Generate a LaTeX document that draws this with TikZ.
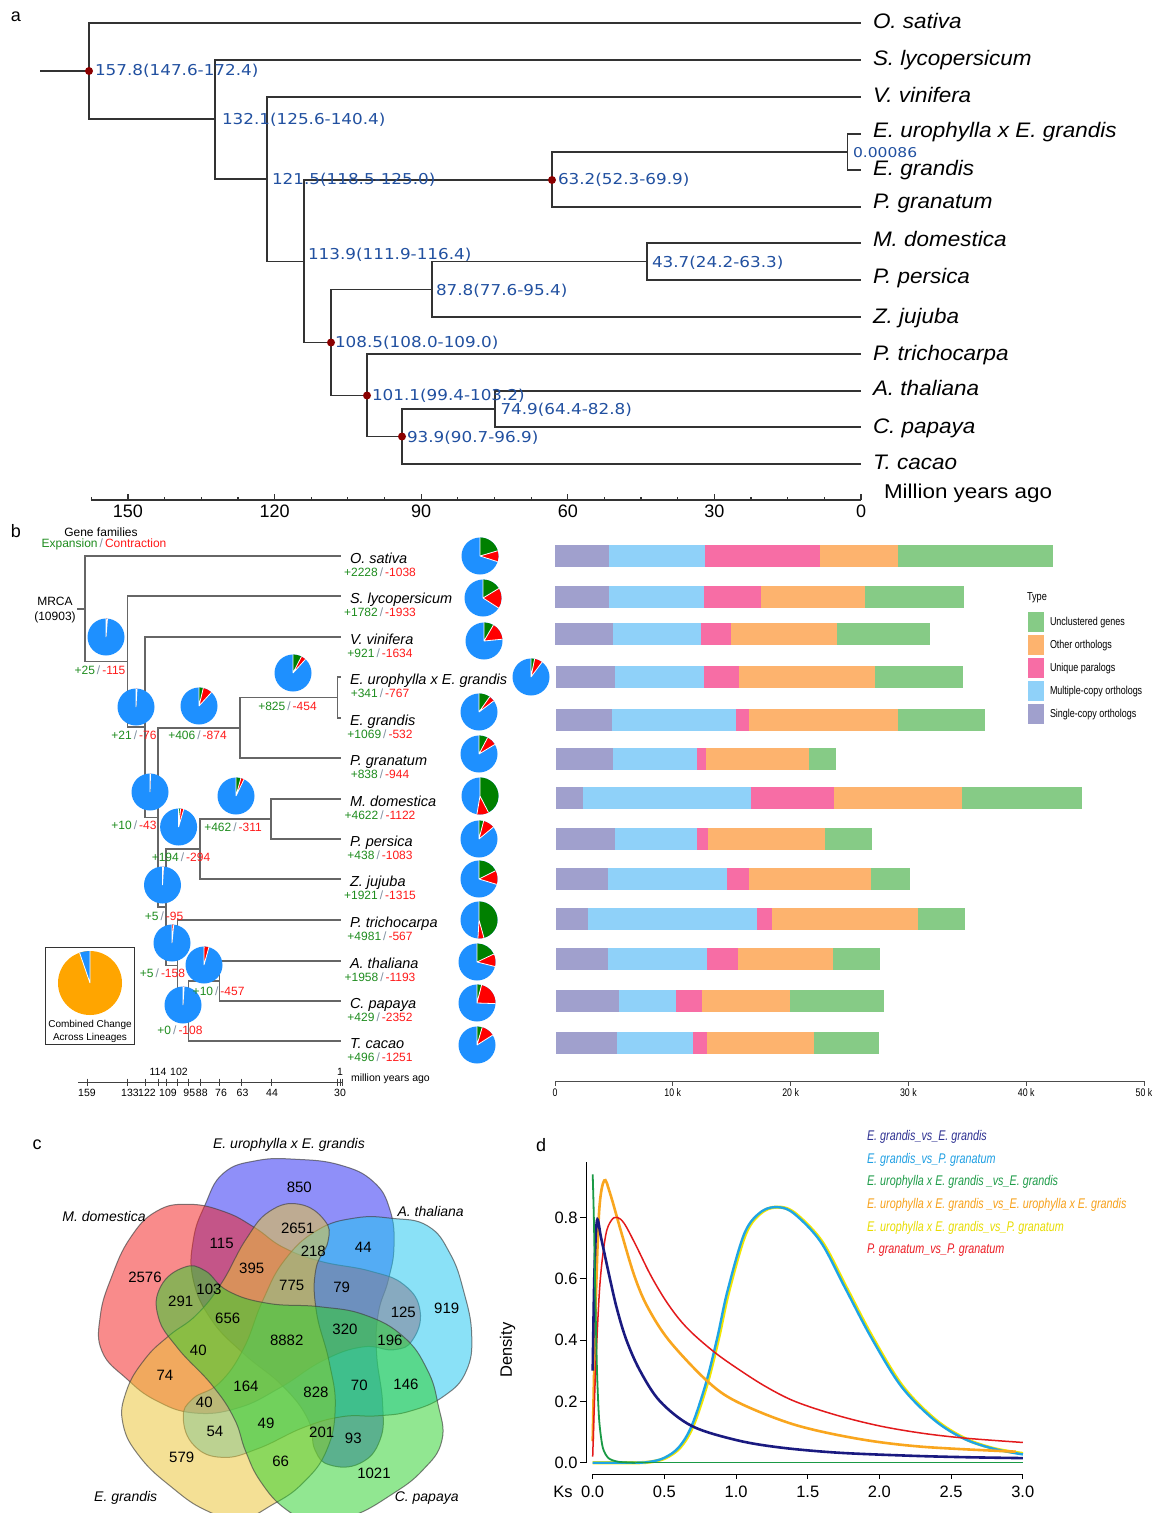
\documentclass[tikz,border=0pt]{standalone}
\usepackage{fontspec}
\setmainfont{Liberation Sans}
\newfontfamily\dvs{DejaVu Sans}
\usepackage{graphicx}
\usetikzlibrary{calc}
\definecolor{nodeblue}{HTML}{2150A0}
\definecolor{dotred}{HTML}{8B0000}
\definecolor{pieblue}{HTML}{1E90FF}
\definecolor{piegreen}{HTML}{008000}
\definecolor{piered}{HTML}{FF0000}
\definecolor{pieorange}{HTML}{FFA500}
\definecolor{txtgreen}{HTML}{1E8C1E}
\definecolor{txtred}{HTML}{FF1A1A}
\definecolor{txtgray}{HTML}{8090A0}
\definecolor{cSingle}{HTML}{A0A0CD}
\definecolor{cMulti}{HTML}{8FD1F9}
\definecolor{cUnique}{HTML}{F76DA5}
\definecolor{cOther}{HTML}{FDB36E}
\definecolor{cUnclust}{HTML}{86CB86}
\definecolor{vBlue}{HTML}{2A2AF5}
\definecolor{vCyan}{HTML}{1FC7F1}
\definecolor{vGreen}{HTML}{2DD12D}
\definecolor{vYellow}{HTML}{EBC535}
\definecolor{vRed}{HTML}{F52121}
\definecolor{kNavy}{HTML}{1A1A80}
\definecolor{kCyan}{HTML}{1EA5E6}
\definecolor{kGreen}{HTML}{1A9A45}
\definecolor{kOrange}{HTML}{F9A61E}
\definecolor{kYellow}{HTML}{F2E600}
\definecolor{kRed}{HTML}{E31A1C}
\definecolor{lNavy}{HTML}{2E3192}
\definecolor{lCyan}{HTML}{1E9FE3}
\definecolor{lGreen}{HTML}{1E9C49}
\definecolor{lOrange}{HTML}{F7A11A}
\definecolor{lYellow}{HTML}{E8DC00}
\definecolor{lRed}{HTML}{ED1C24}
\newcommand{\myfs}[1]{\fontsize{#1}{#1}\selectfont}
\newcommand{\mysx}[2]{\scalebox{#1}[1]{#2}}
\newcommand{\glab}[2]{{\color{txtgreen}+#1}\,{\color{txtgray}/}\,{\color{txtred}-#2}}
\newcommand{\mypie}[5]{%
  \pgfmathsetmacro{\pga}{-90+0.0330184*#4}%
  \pgfmathsetmacro{\pra}{\pga+0.0330184*#5}%
  \node[circle, fill=pieblue, minimum size=37pt] (#1) at (#2,#3) {};%
  \fill[piegreen] (#1.center) -- ++(-90:18.5) arc[start angle=-90, end angle=\pga, radius=18.5] -- cycle;%
  \fill[piered] (#1.center) -- ++(\pga:18.5) arc[start angle=\pga, end angle=\pra, radius=18.5] -- cycle;%
  \draw[white, line width=0.8pt] (#1.center) -- ++(-90:18.5) (#1.center) -- ++(\pga:18.5) (#1.center) -- ++(\pra:18.5);%
}
\newcommand{\gbar}[7]{%
  \fill[cSingle] (#2,#1-11) rectangle (#3,#1+11);%
  \fill[cMulti] (#3,#1-11) rectangle (#4,#1+11);%
  \fill[cUnique] (#4,#1-11) rectangle (#5,#1+11);%
  \fill[cOther] (#5,#1-11) rectangle (#6,#1+11);%
  \fill[cUnclust] (#6,#1-11) rectangle (#7,#1+11);%
}
\newcommand{\vset}[4]{%
  \begin{scope}[shift={(289.3+#3,1340.3+#4)}, rotate=#2]
  \filldraw[fill=#1, vennset] plot[smooth cycle, tension=0.75] coordinates {(-84.3,-135.3) (-66,-167) (-32.7,-179.7) (7.3,-181) (50.7,-175.3) (84,-158.7) (100.7,-130.3) (104.7,-93.7) (99,-60.3) (89,-27) (87.3,13) (93.3,63) (90.7,99.7) (70.7,123) (40.7,124.7) (25.7,109.7) (19,79.7) (-6,46.3) (-46,13) (-77.7,-20.3) (-96,-60.3) (-96,-100.3)};
  \end{scope}}
\tikzset{
  treeA/.style={draw=black!80, line width=1.3pt},
  treeB/.style={draw=black!60, line width=1.2pt},
  dotA/.style={circle, fill=dotred, minimum size=8pt},
  ageA/.style={anchor=west, text=nodeblue},
  spA/.style={anchor=base west, font=\myfs{21}\itshape},
  spB/.style={anchor=base west, font=\myfs{14.5}\itshape},
  numB/.style={anchor=base, font=\myfs{12}},
  axB/.style={font=\myfs{10.5}},
  vnum/.style={font=\myfs{15}},
  vlab/.style={font=\myfs{14}\itshape},
  vennset/.style={fill opacity=0.52, draw=black!75, draw opacity=0.65, line width=1pt},
  ktick/.style={font=\myfs{16.5}},
  kleg/.style={anchor=west},
}
\begin{document}
\begin{tikzpicture}[x=1pt,y=-1pt, every node/.style={inner sep=0pt, outer sep=0pt}]
\useasboundingbox (0,0) rectangle (1161,1513);
\fill[white] (0,0) rectangle (1161,1513);

%================ PANEL A =================
\node[font=\myfs{18}] (pa) at (16,17) {a};
\coordinate (aS) at (40,71);
\coordinate (aR) at (89,71);
\coordinate (a132) at (215,119);
\coordinate (a121) at (267,179);
\coordinate (a113) at (304,261.5);
\coordinate (a63) at (552,180);
\coordinate (aE) at (847.5,152);
\coordinate (a108) at (331,342.5);
\coordinate (a88) at (432,289.5);
\coordinate (a44) at (647,261.5);
\coordinate (a101) at (367,395.5);
\coordinate (a94) at (402,436.5);
\coordinate (a75) at (495,409);
\coordinate (tOs) at (861,23);
\coordinate (tSl) at (861,60);
\coordinate (tVv) at (861,97);
\coordinate (tEu) at (861,134);
\coordinate (tEg) at (861,170);
\coordinate (tPg) at (861,207);
\coordinate (tMd) at (861,243);
\coordinate (tPp) at (861,280);
\coordinate (tZj) at (861,317);
\coordinate (tPt) at (861,354);
\coordinate (tAt) at (861,391);
\coordinate (tCp) at (861,427);
\coordinate (tTc) at (861,464);
\draw[treeA] (aS) -- (aR);
\draw[treeA] (aR) |- (tOs) (aR) |- (a132)
  (a132) |- (tSl) (a132) |- (a121)
  (a121) |- (tVv) (a121) |- (a113)
  (a113) |- (a63) (a113) |- (a108)
  (a63) |- (aE) (a63) |- (tPg)
  (aE) |- (tEu) (aE) |- (tEg)
  (a108) |- (a88) (a108) |- (a101)
  (a88) |- (a44) (a88) |- (tZj)
  (a44) |- (tMd) (a44) |- (tPp)
  (a101) |- (tPt) (a101) |- (a94)
  (a94) |- (a75) (a94) |- (tTc)
  (a75) |- (tAt) (a75) |- (tCp);
\foreach \c in {aR,a63,a108,a101,a94} \node[dotA] (d\c) at (\c) {};
% age labels
\node[ageA] (g1) at (95,71) {\mysx{1.12}{\dvs\myfs{15}157.8(147.6-172.4)}};
\node[ageA] (g2) at (222,120) {\mysx{1.12}{\dvs\myfs{15}132.1(125.6-140.4)}};
\node[ageA] (g3) at (272,180) {\mysx{1.12}{\dvs\myfs{15}121.5(118.5-125.0)}};
\node[ageA] (g4) at (558,180) {\mysx{1.12}{\dvs\myfs{15}63.2(52.3-69.9)}};
\node[ageA] (g5) at (308,255) {\mysx{1.12}{\dvs\myfs{15}113.9(111.9-116.4)}};
\node[ageA] (g6) at (652,262.7) {\mysx{1.12}{\dvs\myfs{15}43.7(24.2-63.3)}};
\node[ageA] (g7) at (436,291) {\mysx{1.12}{\dvs\myfs{15}87.8(77.6-95.4)}};
\node[ageA] (g8) at (335,343) {\mysx{1.12}{\dvs\myfs{15}108.5(108.0-109.0)}};
\node[ageA] (g9) at (372,395.7) {\mysx{1.12}{\dvs\myfs{15}101.1(99.4-103.2)}};
\node[ageA] (g10) at (500.5,410) {\mysx{1.12}{\dvs\myfs{15}74.9(64.4-82.8)}};
\node[ageA] (g11) at (407,437.7) {\mysx{1.12}{\dvs\myfs{15}93.9(90.7-96.9)}};
\node[ageA] (g12) at (853,152.5) {\mysx{1.15}{\dvs\myfs{13.5}0.00086}};
% species
\node[spA] (sOs) at (873,28.5) {\mysx{1.07}{O. sativa}};
\node[spA] (sSl) at (873,65.5) {\mysx{1.07}{S. lycopersicum}};
\node[spA] (sVv) at (873,102.5) {\mysx{1.07}{V. vinifera}};
\node[spA] (sEu) at (873,137.5) {\mysx{1.07}{E. urophylla x E. grandis}};
\node[spA] (sEg) at (873,175.5) {\mysx{1.07}{E. grandis}};
\node[spA] (sPg) at (873,208.5) {\mysx{1.07}{P. granatum}};
\node[spA] (sMd) at (873,246.5) {\mysx{1.07}{M. domestica}};
\node[spA] (sPp) at (873,283.5) {\mysx{1.07}{P. persica}};
\node[spA] (sZj) at (873,323) {\mysx{1.07}{Z. jujuba}};
\node[spA] (sPt) at (873,360.5) {\mysx{1.07}{P. trichocarpa}};
\node[spA] (sAt) at (873,395.5) {\mysx{1.07}{A. thaliana}};
\node[spA] (sCp) at (873,433.5) {\mysx{1.07}{C. papaya}};
\node[spA] (sTc) at (873,469.5) {\mysx{1.07}{T. cacao}};
% axis
\coordinate (ax0) at (90.7,500);
\coordinate (ax1) at (861,500);
\draw[black!80, line width=1.3pt] (ax0) -- (ax1);
\foreach \i in {0,...,21} {
  \pgfmathsetmacro{\xx}{861-4.887*7.5*\i}
  \pgfmathtruncatemacro{\mm}{mod(\i,4)}
  \ifnum\mm=0 \draw[black!80, line width=1.2pt] (\xx,500) -- (\xx,494);
  \else \draw[black!80, line width=1.2pt] (\xx,500) -- (\xx,497);\fi
}
\foreach \v/\xx in {150/127.9,120/274.6,90/421.2,60/567.8,30/714.4,0/861}
  \node[font=\myfs{18}] (al\v) at (\xx,511) {\v};
\node[anchor=west] (myaA) at (884,493) {\mysx{1.12}{\myfs{20}Million years ago}};

%================ PANEL B =================
\node[font=\myfs{18}] (pb) at (16,531) {b};
\node[font=\myfs{12}] (gf) at (101,532) {Gene families};
\node[font=\myfs{12}] (ec) at (104,544) {{\color{txtgreen}Expansion}\,{\color{txtgray}/}\,{\color{txtred}Contraction}};
\node[font=\myfs{12}] (mrca) at (55,601) {MRCA};
\node[font=\myfs{12}] (mrcb) at (55,617) {(10903)};
\coordinate (bS) at (77,609);
\coordinate (bR) at (85,609);
\coordinate (b133) at (127.5,661.5);
\coordinate (b122) at (145,727);
\coordinate (b114) at (158,817.5);
\coordinate (b63) at (240,728);
\coordinate (bE) at (337.5,697.5);
\coordinate (b109) at (166,907);
\coordinate (b88) at (200,849);
\coordinate (b44) at (271,819);
\coordinate (b102) at (177.5,965.5);
\coordinate (b95) at (188.6,1011);
\coordinate (b76) at (219.6,981);
\coordinate (uOs) at (341,556);
\coordinate (uSl) at (341,596);
\coordinate (uVv) at (341,637);
\coordinate (uEu) at (341,677);
\coordinate (uEg) at (341,718);
\coordinate (uPg) at (341,758);
\coordinate (uMd) at (341,799);
\coordinate (uPp) at (341,839);
\coordinate (uZj) at (341,879);
\coordinate (uPt) at (341,920);
\coordinate (uAt) at (341,961);
\coordinate (uCp) at (341,1001);
\coordinate (uTc) at (341,1041);
\draw[treeB] (bS) -- (bR);
\draw[treeB] (bR) |- (uOs) (bR) |- (b133)
  (b133) |- (uSl) (b133) |- (b122)
  (b122) |- (uVv) (b122) |- (b114)
  (b114) |- (b63) (b114) |- (b109)
  (b63) |- (bE) (b63) |- (uPg)
  (bE) |- (uEu) (bE) |- (uEg)
  (b109) |- (b88) (b109) |- (b102)
  (b88) |- (b44) (b88) |- (uZj)
  (b44) |- (uMd) (b44) |- (uPp)
  (b102) |- (uPt) (b102) |- (b95)
  (b95) |- (b76) (b95) |- (uTc)
  (b76) |- (uAt) (b76) |- (uCp);
% species b
\node[spB] (vOs) at (350,563.4) {O. sativa};
\node[spB] (vSl) at (350,603.4) {S. lycopersicum};
\node[spB] (vVv) at (350,644.4) {V. vinifera};
\node[spB] (vEu) at (350,684.4) {E. urophylla x E. grandis};
\node[spB] (vEg) at (350,725.4) {E. grandis};
\node[spB] (vPg) at (350,765.4) {P. granatum};
\node[spB] (vMd) at (350,806.4) {M. domestica};
\node[spB] (vPp) at (350,846.4) {P. persica};
\node[spB] (vZj) at (350,886.4) {Z. jujuba};
\node[spB] (vPt) at (350,927.4) {P. trichocarpa};
\node[spB] (vAt) at (350,968.4) {A. thaliana};
\node[spB] (vCp) at (350,1008.4) {C. papaya};
\node[spB] (vTc) at (350,1048.4) {T. cacao};
\node[numB] (nOs) at (380,576) {\glab{2228}{1038}};
\node[numB] (nSl) at (380,616) {\glab{1782}{1933}};
\node[numB] (nVv) at (380,657) {\glab{921}{1634}};
\node[numB] (nEu) at (380,697) {\glab{341}{767}};
\node[numB] (nEg) at (380,738) {\glab{1069}{532}};
\node[numB] (nPg) at (380,778) {\glab{838}{944}};
\node[numB] (nMd) at (380,819) {\glab{4622}{1122}};
\node[numB] (nPp) at (380,859) {\glab{438}{1083}};
\node[numB] (nZj) at (380,899) {\glab{1921}{1315}};
\node[numB] (nPt) at (380,940) {\glab{4981}{567}};
\node[numB] (nAt) at (380,981) {\glab{1958}{1193}};
\node[numB] (nCp) at (380,1021) {\glab{429}{2352}};
\node[numB] (nTc) at (380,1061) {\glab{496}{1251}};
% pies at tips
\mypie{pOs}{480}{556}{2228}{1038}
\mypie{pSl}{483}{598}{1782}{1933}
\mypie{pVv}{484}{641}{921}{1634}
\mypie{pEu}{531}{677}{341}{767}
\mypie{pEg}{479}{712}{1069}{532}
\mypie{pPg}{479}{754}{838}{944}
\mypie{pMd}{480}{796}{4622}{1122}
\mypie{pPp}{479}{839}{438}{1083}
\mypie{pZj}{479}{879}{1921}{1315}
\mypie{pPt}{479}{920}{4981}{567}
\mypie{pAt}{477}{962}{1958}{1193}
\mypie{pCp}{477}{1003}{429}{2352}
\mypie{pTc}{477}{1045}{496}{1251}
% internal pies
\mypie{iR}{106}{637}{25}{115}
\mypie{i122}{136}{707}{21}{76}
\mypie{i63}{199}{706}{406}{874}
\mypie{iE}{293}{673}{825}{454}
\mypie{i114}{150}{792}{10}{43}
\mypie{i44}{236}{796}{462}{311}
\mypie{i88}{178.6}{827}{194}{294}
\mypie{i109}{162.5}{885}{5}{95}
\mypie{i102}{172}{943}{5}{158}
\mypie{i76}{204}{965}{10}{457}
\mypie{i95}{183}{1005}{0}{108}
\node[numB] (liR) at (100,674.2) {\glab{25}{115}};
\node[numB] (li122) at (134,739.2) {\glab{21}{76}};
\node[numB] (li63) at (197.5,739.2) {\glab{406}{874}};
\node[numB] (liE) at (287.5,710.2) {\glab{825}{454}};
\node[numB] (li114) at (134,829.2) {\glab{10}{43}};
\node[numB] (li44) at (233,831.2) {\glab{462}{311}};
\node[numB] (li88) at (181,861.2) {\glab{194}{294}};
\node[numB] (li109) at (164,920.2) {\glab{5}{95}};
\node[numB] (li102) at (162.5,977.2) {\glab{5}{158}};
\node[numB] (li76) at (218.6,995.2) {\glab{10}{457}};
\node[numB] (li95) at (180,1034.2) {\glab{0}{108}};
% combined change box
\node[draw=black!80, line width=1pt, minimum width=89.6pt, minimum height=97pt] (ccbox) at (89.8,995.5) {};
\node[circle, fill=pieorange, minimum size=64pt] (ccpie) at (90,983) {};
\fill[pieblue] (ccpie.center) -- ++(-109:32) arc[start angle=-109, end angle=-90, radius=32] -- cycle;
\draw[white, line width=0.8pt] (ccpie.center) -- ++(-90:32) (ccpie.center) -- ++(-109:32);
\node[font=\myfs{10}] (cct1) at (90,1025) {Combined Change};
\node[font=\myfs{10}] (cct2) at (90,1037.5) {Across Lineages};
% time axis b
\coordinate (bx0) at (78,1082);
\coordinate (bx1) at (343,1082);
\draw[black!75, line width=1pt] (bx0) -- (bx1);
\foreach \xx in {87,127.5,145,158,166,177.5,188.6,200,219.6,241,271,337.5,340,342.5}
  \draw[black!75, line width=0.9pt] (\xx,1078.5) -- (\xx,1085.5);
\foreach \t/\xx in {159/87,133/130,122/147,109/168,95/189.3,88/201.8,76/221,63/242.5,44/272,30/340}
  \node[axB] (bl\t) at (\xx,1093) {\t};
\foreach \t/\xx in {114/158,102/179,1/340}
  \node[axB] (bu\t) at (\xx,1072) {\t};
\node[axB, anchor=west] (mya) at (351,1079) {million years ago};
% bars
\gbar{556}{554.7}{608.5}{705}{820}{898}{1052.7}
\gbar{597}{554.7}{608.5}{704.3}{760.8}{864.5}{963.9}
\gbar{633.5}{554.7}{613}{701.2}{730.8}{837.2}{930.4}
\gbar{676.5}{555.8}{614.7}{703.5}{739.4}{874.6}{963.1}
\gbar{720}{555.8}{611.6}{735.9}{749.1}{898}{984.5}
\gbar{758.5}{555.8}{613.1}{696.9}{705.5}{809.2}{835.7}
\gbar{798}{555.8}{583.1}{750.7}{834.1}{961.9}{1082.3}
\gbar{839}{555.8}{615.1}{696.9}{707.8}{824.7}{872.3}
\gbar{878.5}{555.8}{608.1}{726.5}{749.1}{871.1}{909.7}
\gbar{919}{555.8}{587.8}{756.9}{772.1}{917.9}{965.4}
\gbar{958.5}{555.8}{608.1}{707.4}{737.5}{832.9}{879.7}
\gbar{1001}{555.8}{619.4}{675.5}{702.4}{790.1}{883.6}
\gbar{1042.5}{555.8}{616.6}{692.6}{707.1}{814.2}{878.9}
\coordinate (cx0) at (555,1081);
\coordinate (cx1) at (1144,1081);
\draw[black!70, line width=1pt] (cx0) -- (cx1);
\foreach \v/\xx in {0/555,10 k/672.8,20 k/790.6,30 k/908.4,40 k/1026.2,50 k/1144} {
  \draw[black!70, line width=1pt] (\xx,1081) -- (\xx,1085.5);
  \node (ct\xx) at (\xx,1093) {\mysx{0.8}{\myfs{11}\v}};
}
% legend
\node[anchor=west] (ltype) at (1027,598) {\mysx{0.8}{\myfs{11.5}Type}};
\fill[cUnclust] (1028,612) rectangle (1044,632);
\fill[cOther] (1028,635) rectangle (1044,655);
\fill[cUnique] (1028,658) rectangle (1044,678);
\fill[cMulti] (1028,681) rectangle (1044,701);
\fill[cSingle] (1028,704) rectangle (1044,724);
\node[anchor=west] (lg1) at (1050,622.5) {\mysx{0.78}{\myfs{11.5}Unclustered genes}};
\node[anchor=west] (lg2) at (1050,645.5) {\mysx{0.78}{\myfs{11.5}Other orthologs}};
\node[anchor=west] (lg3) at (1050,668.5) {\mysx{0.78}{\myfs{11.5}Unique paralogs}};
\node[anchor=west] (lg4) at (1050,691.5) {\mysx{0.78}{\myfs{11.5}Multiple-copy orthologs}};
\node[anchor=west] (lg5) at (1050,714.5) {\mysx{0.78}{\myfs{11.5}Single-copy orthologs}};

%================ PANEL C =================
\node[font=\myfs{18}] (pc) at (37,1145) {c};
\vset{vBlue}{0}{0}{0}
\vset{vRed}{-288}{-8}{0}
\vset{vCyan}{-72}{0}{0}
\vset{vYellow}{-216}{-5}{5}
\vset{vGreen}{-144}{1}{4}
\node[vlab] (vl1) at (289,1145) {E. urophylla x E. grandis};
\node[vlab] (vl2) at (104,1216.7) {M. domestica};
\node[vlab] (vl3) at (430.7,1211.7) {A. thaliana};
\node[vlab] (vl4) at (125.7,1497.7) {E. grandis};
\node[vlab] (vl5) at (426.7,1497.7) {C. papaya};
\foreach \n/\xx/\yy [count=\k] in {850/299.3/1187.7, 2651/297.7/1228.3, 44/363.3/1247.3, 115/221.7/1243.3, 218/313.3/1251, 395/251.7/1268.3, 775/291.7/1285, 79/341.7/1287.3, 2576/145/1277.3, 103/209/1289, 291/180.7/1301.7, 656/227.7/1318.3, 125/403.3/1312.3, 919/446.7/1308.3, 8882/286.7/1340, 320/345/1329.3, 196/390/1340, 40/198.3/1350, 74/165/1375, 164/246/1386.7, 828/316/1392.3, 70/359.3/1385.7, 146/406/1384, 40/204.3/1402.3, 54/215/1431.7, 49/266/1423.3, 201/321.7/1432.3, 93/353.3/1438.3, 579/181.7/1457.3, 66/280.7/1461.7, 1021/374/1473.3}
  \node[vnum] (vn\k) at (\xx,\yy) {\n};

%================ PANEL D =================
\node[font=\myfs{18}] (pd) at (541,1145) {d};
\coordinate (ky0) at (586.4,1162);
\coordinate (ky1) at (586.4,1463);
\coordinate (kx0) at (592.7,1474.3);
\coordinate (kx1) at (1022.8,1474.3);
\draw[black, line width=1pt] (ky0) -- (ky1);
\draw[black, line width=1pt] (kx0) -- (kx1);
\foreach \v in {0,1,2,3,4} {
  \pgfmathsetmacro{\yy}{1462.7-61.34*\v}
  \draw[black, line width=1pt] (580.4,\yy) -- (586.4,\yy);
  \node[ktick, anchor=east] (ky\v) at (577.5,\yy) {0.\the\numexpr2*\v\relax};
}
\foreach \v/\lab in {0/0.0,1/0.5,2/1.0,3/1.5,4/2.0,5/2.5,6/3.0} {
  \pgfmathsetmacro{\xx}{592.7+71.68*\v}
  \draw[black, line width=1pt] (\xx,1474.3) -- (\xx,1478.5);
  \node[ktick] (kx\v) at (\xx,1492) {\lab};
}
\node[ktick] (kks) at (563,1492) {Ks};
\node[ktick, rotate=90] (kden) at (507.6,1350) {Density};
\begin{scope}[shift={(592.7,1462.7)}, x=143.4pt, y=306.7pt]
\draw[kYellow, line width=3.2pt] plot[smooth, tension=0.55] coordinates {(0,0) (0.3,0) (0.41,0.003) (0.51,0.016) (0.61,0.05) (0.7,0.12) (0.8,0.26) (0.88,0.41) (0.95,0.56) (1.07,0.75) (1.19,0.82) (1.31,0.833) (1.42,0.81) (1.6,0.72) (1.77,0.57) (1.95,0.41) (2.16,0.25) (2.39,0.14) (2.6,0.078) (2.8,0.046) (3.0,0.03)};
\draw[kCyan, line width=2.4pt] plot[smooth, tension=0.55] coordinates {(0,0) (0.3,0) (0.4,0.003) (0.5,0.016) (0.6,0.05) (0.69,0.12) (0.79,0.26) (0.87,0.41) (0.94,0.56) (1.06,0.75) (1.18,0.82) (1.3,0.833) (1.41,0.81) (1.59,0.72) (1.76,0.57) (1.94,0.41) (2.15,0.25) (2.38,0.14) (2.59,0.078) (2.8,0.045) (3.0,0.027)};
\draw[kOrange, line width=2.6pt] plot[smooth, tension=0.55] coordinates {(0,0.07) (0.02,0.5) (0.045,0.82) (0.08,0.92) (0.12,0.88) (0.2,0.75) (0.29,0.61) (0.38,0.51) (0.53,0.4) (0.79,0.27) (1.0,0.2) (1.4,0.125) (1.85,0.078) (2.3,0.052) (2.95,0.036)};
\draw[kRed, line width=1.5pt] plot[smooth, tension=0.55] coordinates {(0,0.02) (0.02,0.3) (0.05,0.58) (0.09,0.74) (0.13,0.79) (0.17,0.8) (0.22,0.78) (0.3,0.71) (0.4,0.615) (0.5,0.535) (0.6,0.47) (0.7,0.42) (0.85,0.36) (1.0,0.31) (1.2,0.25) (1.41,0.2) (1.7,0.155) (2.0,0.12) (2.3,0.096) (2.6,0.08) (3.0,0.066)};
\draw[kNavy, line width=2.6pt] plot[smooth, tension=0.55] coordinates {(0,0.3) (0.012,0.62) (0.03,0.79) (0.06,0.73) (0.12,0.6) (0.17,0.5) (0.235,0.4) (0.33,0.3) (0.47,0.2) (0.69,0.12) (1.0,0.074) (1.3,0.05) (1.7,0.033) (2.2,0.023) (2.6,0.018) (3.0,0.015)};
\draw[kGreen, line width=1.8pt] plot[smooth, tension=0.45] coordinates {(0,0.94) (0.008,0.8) (0.018,0.55) (0.03,0.3) (0.045,0.14) (0.07,0.05) (0.11,0.015) (0.18,0.003) (0.3,0)};
\draw[kGreen, line width=1.5pt] (0.3,0) -- (3.0,0);
\end{scope}
\node[kleg] (kl1) at (867,1137) {\mysx{0.77}{\myfs{14}\itshape\color{lNavy}E. grandis\_vs\_E. grandis}};
\node[kleg] (kl2) at (867,1159.5) {\mysx{0.77}{\myfs{14}\itshape\color{lCyan}E. grandis\_vs\_P. granatum}};
\node[kleg] (kl3) at (867,1182) {\mysx{0.77}{\myfs{14}\itshape\color{lGreen}E. urophylla x E. grandis \_vs\_E. grandis}};
\node[kleg] (kl4) at (867,1205) {\mysx{0.77}{\myfs{14}\itshape\color{lOrange}E. urophylla x E. grandis \_vs\_E. urophylla x E. grandis}};
\node[kleg] (kl5) at (867,1227.5) {\mysx{0.77}{\myfs{14}\itshape\color{lYellow}E. urophylla x E. grandis\_vs\_P. granatum}};
\node[kleg] (kl6) at (867,1250) {\mysx{0.77}{\myfs{14}\itshape\color{lRed}P. granatum\_vs\_P. granatum}};
\end{tikzpicture}
\end{document}
